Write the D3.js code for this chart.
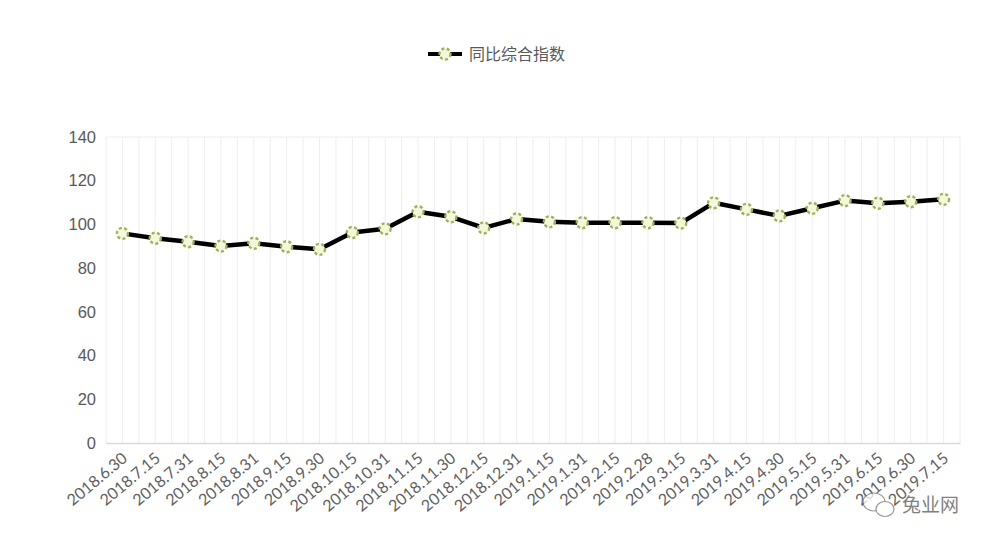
<!DOCTYPE html>
<html>
<head>
<meta charset="utf-8">
<script src="https://cdn.jsdelivr.net/npm/d3@7"></script>
<style>
  html, body { margin: 0; padding: 0; background: #fff; }
  svg { display: block; }
</style>
</head>
<body>
<svg id="chart" width="991" height="548"></svg>
<script>
const categories = ["2018.6.30","2018.7.15","2018.7.31","2018.8.15","2018.8.31","2018.9.15","2018.9.30","2018.10.15","2018.10.31","2018.11.15","2018.11.30","2018.12.15","2018.12.31","2019.1.15","2019.1.31","2019.2.15","2019.2.28","2019.3.15","2019.3.31","2019.4.15","2019.4.30","2019.5.15","2019.5.31","2019.6.15","2019.6.30","2019.7.15"];
const seriesName = "同比综合指数";
const values = [95.9, 93.7, 92.1, 90.1, 91.4, 89.8, 88.6, 96.3, 98.0, 105.8, 103.5, 98.4, 102.5, 101.2, 100.8, 100.8, 100.8, 100.6, 109.9, 106.9, 103.9, 107.4, 110.9, 109.7, 110.4, 111.5];
const yTicks = [0, 20, 40, 60, 80, 100, 120, 140];
const watermark = "兔业网";

(function () {
const svg = d3.select("#chart");
const pLeft = 106, pRight = 960, pTop = 137, pBottom = 443;

const x = d3.scaleBand().domain(categories).range([pLeft, pRight]).padding(0);
const y = d3.scaleLinear().domain([0, 140]).range([pBottom, pTop]);
const cx = d => x(d) + x.bandwidth() / 2;

// vertical grid lines: band boundaries and centers
const gridX = [];
categories.forEach(c => { gridX.push(x(c)); gridX.push(cx(c)); });
gridX.push(pRight);
svg.append("g").selectAll("line").data(gridX).join("line")
  .attr("x1", d => d).attr("x2", d => d)
  .attr("y1", pTop).attr("y2", pBottom)
  .attr("stroke", "#eeeef2").attr("stroke-width", 1);

// top border
svg.append("line").attr("x1", pLeft).attr("x2", pRight).attr("y1", pTop).attr("y2", pTop)
  .attr("stroke", "#eeeef2");

// y axis labels
const yAxis = d3.axisLeft(y).tickValues(yTicks).tickSize(0).tickPadding(10);
const gy = svg.append("g").attr("transform", `translate(${pLeft},0)`).call(yAxis);
gy.select(".domain").remove();
gy.selectAll("text").attr("fill", "#595959").style("font-family", "'Liberation Sans', Arial, sans-serif").style("font-size", "16.5px");

// x axis
const xAxis = d3.axisBottom(x).tickSize(0).tickPadding(0);
const gx = svg.append("g").attr("transform", `translate(0,${pBottom})`).call(xAxis);
gx.select(".domain").attr("stroke", "#d9d9de").attr("stroke-width", 1.5);
gx.selectAll("text")
  .attr("fill", "#606060")
  .style("font-family", "Lato, 'Open Sans', sans-serif")
  .style("font-size", "16px")
  .attr("text-anchor", "end")
  .attr("dy", "0")
  .attr("y", 0)
  .attr("transform", "translate(6,17) rotate(-40)");

// line
const line = d3.line().x((d, i) => cx(categories[i])).y(d => y(d));
svg.append("path").datum(values).attr("d", line)
  .attr("fill", "none").attr("stroke", "#000").attr("stroke-width", 4.5)
  .attr("stroke-linejoin", "round");

// markers
function marker(sel) {
  sel.append("circle").attr("r", 5.5).attr("fill", "#f4f7dc")
    .attr("stroke", "#9fb25a").attr("stroke-width", 2.4)
    .attr("stroke-dasharray", "3,2.4");
}
svg.append("g").selectAll("g").data(values).join("g")
  .attr("transform", (d, i) => `translate(${cx(categories[i])},${y(d)})`)
  .call(marker);

// legend
const lg = svg.append("g").attr("transform", "translate(428,54)");
lg.append("line").attr("x1", 0).attr("x2", 34).attr("y1", 0).attr("y2", 0)
  .attr("stroke", "#000").attr("stroke-width", 4);
lg.append("g").attr("transform", "translate(17,0)").call(marker);
lg.append("text").attr("x", 41).attr("y", 0).attr("dy", "0.35em")
  .attr("fill", "#595959")
  .style("font-family", "'Noto Sans CJK SC', sans-serif").style("font-size", "16px")
  .text(seriesName);

// watermark
const wm = svg.append("g").attr("transform", "translate(880,505)").attr("opacity", 0.75);
wm.append("ellipse").attr("cx", -6).attr("cy", -3).attr("rx", 11).attr("ry", 9)
  .attr("fill", "#fff").attr("stroke", "#777").attr("stroke-width", 1.2);
wm.append("ellipse").attr("cx", 5).attr("cy", 4).attr("rx", 9).attr("ry", 7.5)
  .attr("fill", "#fff").attr("stroke", "#777").attr("stroke-width", 1.2);
wm.append("text").attr("x", 22).attr("y", 0).attr("dy", "0.35em")
  .attr("fill", "#555")
  .style("font-family", "'Noto Sans CJK SC', sans-serif").style("font-size", "19px")
  .text(watermark);
})();
</script>
</body>
</html>
